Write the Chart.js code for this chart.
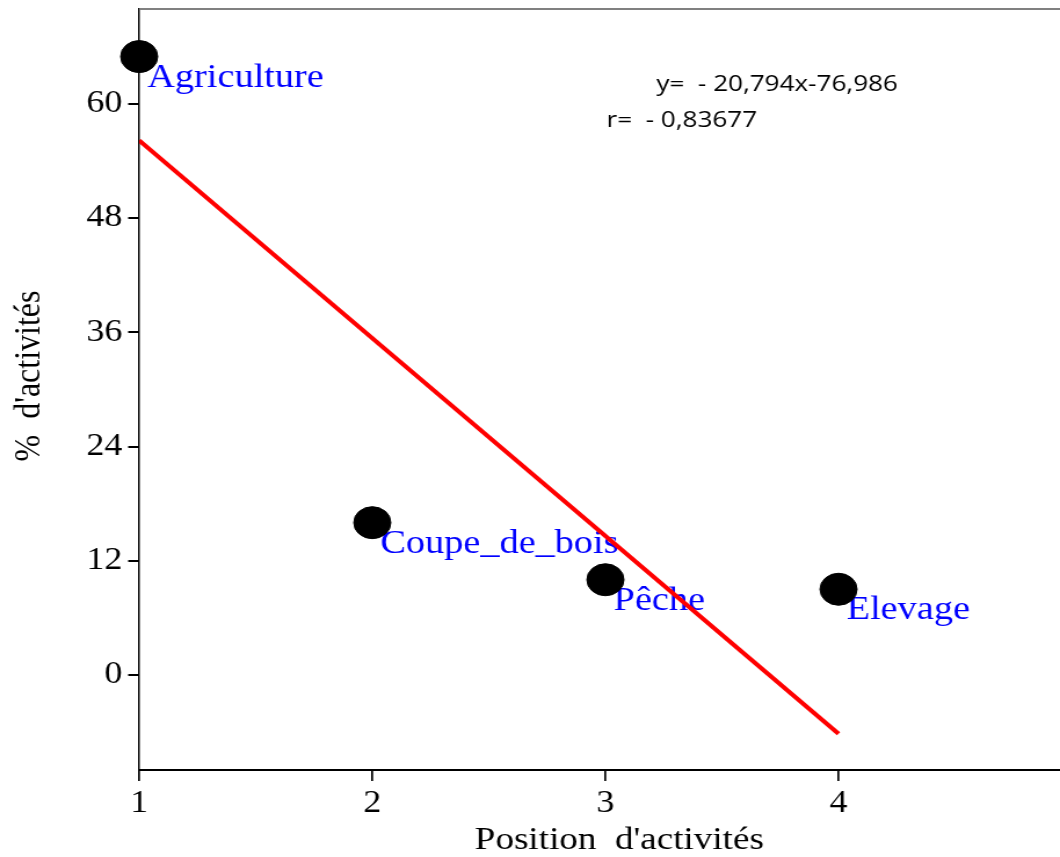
<!DOCTYPE html>
<html>
<head>
<meta charset="utf-8">
<script src="https://cdn.jsdelivr.net/npm/chart.js@4/dist/chart.umd.min.js"></script>
<style>
  html, body { margin: 0; padding: 0; background: #fff; overflow: hidden; }
</style>
</head>
<body>
<!-- the original figure is stretched horizontally, so the canvas is drawn narrower and widened by CSS -->
<canvas id="chart" width="914" height="857" style="display:block;width:1060px;height:857px"></canvas>
<script>
const activities = ["Agriculture", "Coupe_de_bois", "Pêche", "Elevage"];
const positions = [1, 2, 3, 4];
const percents = [65, 16, 10, 9];
const xTicks = [1, 2, 3, 4];
const yTicks = [0, 12, 24, 36, 48, 60];
const fitSlope = -20.794;
const fitIntercept = 76.986;
const equationLines = ["y=  - 20,794x-76,986", "r=  - 0,83677"];

const fitX = [positions[0], positions[positions.length - 1]];
const fitPoints = fitX.map(x => ({ x: x, y: fitIntercept + fitSlope * x }));

const serif = '"Liberation Serif", "Times New Roman", serif';

const annotate = {
    id: "annotate",
    beforeDatasetsDraw(chart) {
        const ctx = chart.ctx;
        const meta = chart.getDatasetMeta(0);
        ctx.save();
        ctx.fillStyle = "#0000ff";
        ctx.font = "33px " + serif;
        ctx.textAlign = "left";
        ctx.textBaseline = "alphabetic";
        meta.data.forEach((pt, i) => ctx.fillText(activities[i], pt.x + 7, pt.y + 30));
        ctx.restore();
    },
    afterDraw(chart) {
        const ctx = chart.ctx;
        const area = chart.chartArea;
        ctx.save();
        // grey frame line on top
        ctx.strokeStyle = "#808080";
        ctx.lineWidth = 2;
        ctx.beginPath();
        ctx.moveTo(area.left, area.top);
        ctx.lineTo(area.right, area.top);
        ctx.stroke();

        // axis titles
        ctx.fillStyle = "#000";
        ctx.font = "32px " + serif;
        ctx.textAlign = "center";
        ctx.textBaseline = "alphabetic";
        ctx.fillText("Position  d'activités", 534, 849);
        ctx.save();
        ctx.translate(34, 376);
        ctx.rotate(-Math.PI / 2);
        ctx.fillText("%  d'activités", 0, 0);
        ctx.restore();

        // regression equation
        ctx.font = '22.5px "Open Sans", sans-serif';
        ctx.textAlign = "left";
        ctx.fillText(equationLines[0], 566, 91);
        ctx.fillText(equationLines[1], 523, 127);
        ctx.restore();
    }
};

new Chart(document.getElementById("chart"), {
    type: "scatter",
    data: {
        datasets: [
            {
                label: "Activités",
                data: positions.map((x, i) => ({ x: x, y: percents[i] })),
                backgroundColor: "#000",
                borderColor: "#000",
                pointRadius: 16,
                pointBorderWidth: 1,
                pointHoverRadius: 16,
                clip: false,
            },
            {
                label: "Régression",
                type: "line",
                data: fitPoints,
                borderColor: "#ff0000",
                borderWidth: 4,
                pointRadius: 0,
                fill: false,
            },
        ],
    },
    options: {
        responsive: false,
        animation: false,
        events: [],
        layout: { autoPadding: false, padding: { top: 9, right: 0, bottom: 0, left: 0 } },
        plugins: { legend: { display: false }, tooltip: { enabled: false } },
        scales: {
            x: {
                type: "linear",
                min: 1,
                max: 4.95,
                afterBuildTicks: s => { s.ticks = xTicks.map(v => ({ value: v })); },
                afterFit: s => { s.height = 87; s.paddingLeft = 0; s.paddingRight = 0; },
                grid: { drawOnChartArea: false, drawTicks: true, tickLength: 11, color: "#000", lineWidth: 1.7 },
                border: { color: "#000", width: 2 },
                ticks: { color: "#000", font: { family: serif, size: 31 }, padding: 4, maxRotation: 0 },
            },
            y: {
                type: "linear",
                min: -10,
                max: 70,
                afterBuildTicks: s => { s.ticks = yTicks.map(v => ({ value: v })); },
                afterFit: s => { s.width = 120; s.paddingTop = 0; s.paddingBottom = 0; },
                grid: { drawOnChartArea: false, drawTicks: true, tickLength: 9.5, color: "#000", lineWidth: 2 },
                border: { color: "#000", width: 1.5 },
                ticks: { color: "#000", font: { family: serif, size: 31 }, padding: 5 },
            },
        },
    },
    plugins: [annotate],
});
</script>
</body>
</html>
